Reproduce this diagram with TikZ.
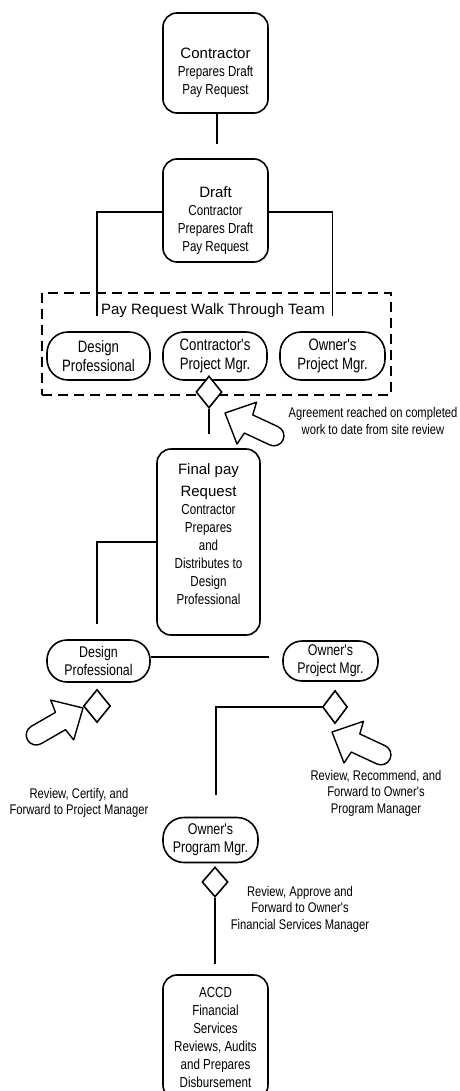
\documentclass[tikz,border=0pt]{standalone}
\usepackage{fontspec}
\setmainfont{Liberation Sans}
\newfontfamily\narrowfont[FakeStretch=0.8]{Liberation Sans}
\newfontfamily\headfont{Liberation Sans}
\usetikzlibrary{shapes.geometric}

\begin{document}
\begin{tikzpicture}[x=1pt,y=-1pt,line width=1.6pt,
		box/.style={draw, rounded corners=14pt, align=center, inner sep=0pt, minimum width=105pt,
			font=\narrowfont\fontsize{14.5}{18}\selectfont},
		pill/.style={draw, rounded corners=21pt, align=center, inner sep=0pt,
			font=\narrowfont\fontsize{16.5}{19}\selectfont},
		gate/.style={draw, diamond, inner sep=0pt, minimum width=26pt, minimum height=32pt},
		note/.style={align=center, inner sep=0pt, font=\narrowfont\fontsize{14}{16.5}\selectfont},
		link/.style={draw, line width=1.6pt},
		bigarrow/.pic={\draw[line width=1.4pt, line join=round] (0,0) -- (24,-23) -- (26,-10) -- (54,-10)
			arc[start angle=-90, end angle=90, radius=10] -- (26,10) -- (24,23) -- cycle;}]
		\useasboundingbox (0,0) rectangle (459,1091);

		\node[box, minimum height=100pt, text height=66pt] (contr) at (215.5,63) {{\headfont\fontsize{15}{18}\selectfont Contractor}\\Prepares Draft\\Pay Request};
		\node[box, minimum height=103pt, text height=85pt] (draft) at (215.5,210.5) {{\headfont\fontsize{15}{18}\selectfont Draft}\\Contractor\\Prepares Draft\\Pay Request};

		\node[draw, dash pattern=on 10pt off 6pt, line width=1.4pt, minimum width=349pt, minimum height=102pt] (team) at (216.5,344) {};
		\node[font=\headfont\fontsize{15}{18}\selectfont, inner sep=0pt] (teamtitle) at (213,311) {Pay Request Walk Through Team};
		\node[pill, minimum width=103pt, minimum height=48pt] (desA) at (98.5,356) {Design\\Professional};
		\node[pill, minimum width=104pt, minimum height=48pt] (cpm) at (215,356) {Contractor's\\Project Mgr.};
		\node[pill, minimum width=105pt, minimum height=48pt] (opmA) at (332.5,356) {Owner's\\Project Mgr.};
		\node[gate, fill=white] (agreegate) at (209,392) {};

		\node[box, minimum width=103pt, minimum height=186pt, text depth=16pt] (final) at (208.5,542) {{\headfont\fontsize{15}{18}\selectfont Final pay}\\[4pt]{\headfont\fontsize{15}{18}\selectfont Request}\\Contractor\\Prepares\\and\\Distributes to\\Design\\Professional};

		\node[pill, rounded corners=20pt, minimum width=103pt, minimum height=42pt, font=\narrowfont\fontsize{15.5}{18}\selectfont] (desB) at (98.5,661) {Design\\Professional};
		\node[pill, rounded corners=19pt, minimum width=95pt, minimum height=40pt, font=\narrowfont\fontsize{15.5}{18}\selectfont] (opmB) at (330.5,661) {Owner's\\Project Mgr.};
		\node[gate, minimum width=27pt, minimum height=33pt] (certgate) at (97,706) {};
		\node[gate, minimum width=25pt, minimum height=33pt] (recgate) at (335,707) {};

		\node[pill, minimum width=95pt, minimum height=45pt, font=\narrowfont\fontsize{15.5}{18}\selectfont] (prog) at (210.5,840) {Owner's\\Program Mgr.};
		\node[gate, minimum width=26pt, minimum height=30pt] (apprgate) at (215,882) {};

		\node[box, minimum height=124pt] (accd) at (215.5,1037) {ACCD\\Financial\\Services\\Reviews, Audits\\and Prepares\\Disbursement};

		\draw[link, shorten >=14pt] ([xshift=1.5pt]contr.south) -- ([xshift=1.5pt]draft.north);
		\draw[link, shorten >=15pt] ([yshift=-1.5pt]draft.west) -| ([xshift=-1.5pt]desA.north);
		\draw[link, shorten >=15pt] ([yshift=-1.5pt]draft.east) -| (opmA.north);
		\draw[link, shorten >=14pt] (agreegate.south) -- (agreegate.south |- final.north);
		\draw[link, shorten >=15pt] (final.west) -| ([xshift=-1.5pt]desB.north);
		\draw[link, shorten >=13pt] ([yshift=4pt]desB.east) -- ([yshift=4pt]desB.east -| opmB.west);
		\draw[link, shorten >=22pt] (recgate.west) -| ([xshift=5.5pt]prog.north);
		\draw[link, shorten >=10pt] (apprgate.south) -- (apprgate.south |- accd.north);

		\pic[rotate=-25] at (225,413) {bigarrow};
		\pic[rotate=210] at (83,708) {bigarrow};
		\pic[rotate=-25] at (332,732) {bigarrow};

		\node[note] (agreenote) at (373,421) {Agreement reached on completed\\work to date from site review};
		\node[note] (certnote) at (79,803) {Review, Certify, and\\Forward to Project Manager};
		\node[note] (recnote) at (376,793) {Review, Recommend, and\\Forward to Owner's\\Program Manager};
		\node[note] (apprnote) at (300,909) {Review, Approve and\\Forward to Owner's\\Financial Services Manager};
	\end{tikzpicture}
\end{document}
